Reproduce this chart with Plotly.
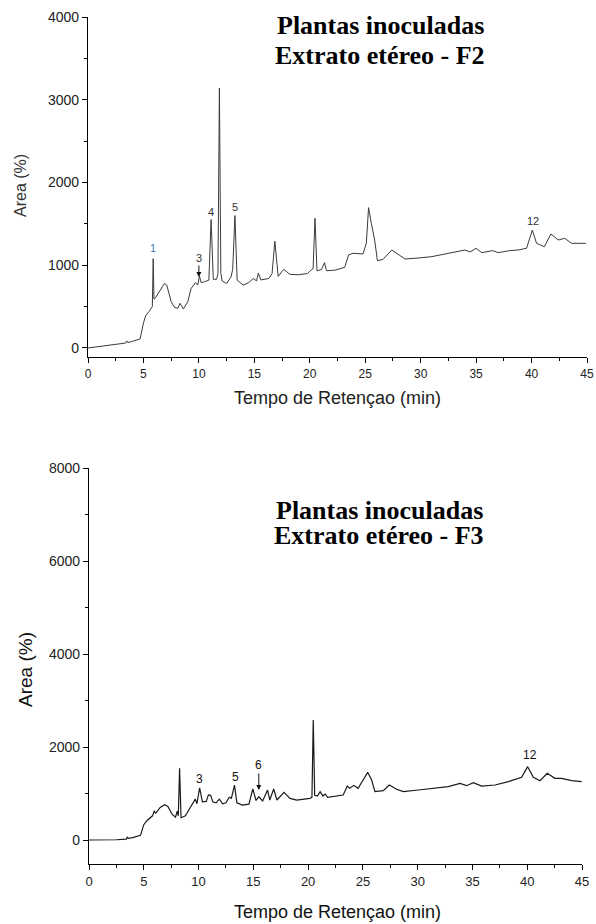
import plotly.graph_objects as go

# ---------------- data ----------------
t_f2 = [0, 1, 2, 3, 3.4, 3.5, 3.6, 4, 4.7, 5.0, 5.2, 5.5, 5.8, 5.88, 5.95, 6.05, 6.5, 6.9, 7.1,
        7.5, 7.8, 8.1, 8.3, 8.6, 9.0, 9.3, 9.7, 9.9, 10.05, 10.2, 10.5, 10.9, 11.1, 11.3, 11.6,
        11.72, 11.85, 11.98, 12.1, 12.5, 12.9, 13.05, 13.25, 13.45, 14.0, 14.5, 14.9, 15.2, 15.36,
        15.6, 16.3, 16.6, 16.85, 17.15, 17.65, 18.2, 19.0, 19.8, 20.1, 20.3, 20.47, 20.65, 21.05,
        21.33, 21.5, 22.3, 23.15, 23.5, 23.9, 24.8, 25.1, 25.3, 25.55, 25.85, 26.1, 26.6, 27.4,
        28.0, 28.6, 30.0, 31.0, 32.2, 33.1, 34.0, 34.45, 35.0, 35.5, 36.5, 37.0, 38.0, 38.8, 39.55,
        40.07, 40.45, 41.15, 41.75, 42.4, 43.0, 43.6, 44.9]
area_f2 = [0, 15, 30, 45, 60, 85, 65, 80, 110, 300, 390, 440, 500, 1080, 590, 600, 700, 780, 760,
           560, 490, 480, 540, 470, 560, 720, 790, 760, 870, 790, 800, 820, 1552, 830, 830,
           900, 3140, 900, 810, 780, 860, 950, 1600, 820, 760, 790, 840, 810, 905,
           822, 840, 900, 1290, 865, 950, 890, 885, 900, 940, 960, 1567, 933, 947,
           1031, 933, 941, 975, 1124, 1144, 1136, 1265, 1696, 1507, 1305, 1055, 1071, 1184,
           1124, 1075, 1090, 1104, 1136, 1160, 1184, 1160, 1205, 1152, 1176, 1152, 1176, 1184, 1205,
           1426, 1265, 1224, 1378, 1305, 1325, 1265, 1265]

t_f3 = [0, 1, 2.5, 3.4, 3.5, 3.6, 4.0, 4.7, 5.0, 5.3, 5.8, 5.95, 6.1, 6.5, 6.9, 7.2, 7.6, 7.9,
        8.05, 8.15, 8.27, 8.4, 8.8, 9.3, 9.7, 9.85, 10.1, 10.35, 10.7, 10.9, 11.1, 11.3, 11.6,
        11.9, 12.2, 12.5, 12.8, 13.0, 13.28, 13.5, 14.0, 14.6, 14.95, 15.25, 15.5, 15.85, 16.3,
        16.5, 16.86, 17.15, 17.8, 18.35, 18.96, 20.17, 20.35, 20.47, 20.6, 20.85, 21.1, 21.35,
        21.56, 21.78, 22.9, 23.2, 23.58, 23.8, 24.17, 24.56, 25.02, 25.44, 25.8, 26.1, 26.86,
        27.41, 28.08, 28.69, 30.06, 31.58, 32.8, 33.86, 34.47, 35.08, 35.84, 37.06, 38.28, 39.49,
        40.04, 40.56, 41.17, 41.83, 42.53, 43.14, 44.05, 44.97]
area_f3 = [0, 0, 5, 20, 60, 35, 50, 100, 330, 420, 520, 620, 580, 700, 760, 720, 550, 490,
           620, 520, 1540, 480, 520, 720, 880, 780, 1120, 820, 830, 970, 960, 820, 800,
           880, 780, 800, 920, 900, 1180, 800, 750, 770, 1100, 850, 930, 840, 1075,
           860, 1097, 860, 1025, 896, 860, 896, 920, 2580, 960, 946, 1039, 946,
           989, 918, 946, 968, 1161, 1111, 1175, 1111, 1290, 1455, 1290, 1039, 1061,
           1183, 1090, 1039, 1075, 1111, 1147, 1219, 1168, 1233, 1161, 1183, 1254, 1348,
           1577, 1348, 1276, 1433, 1326, 1326, 1276, 1254]

x_ticks = [0, 5, 10, 15, 20, 25, 30, 35, 40, 45]
y_ticks_f2 = [0, 1000, 2000, 3000, 4000]
y_ticks_f3 = [0, 2000, 4000, 6000, 8000]

# peak labels: (text, time, area)
labels_f2 = [("1", 5.86, 1208), ("4", 11.1, 1644), ("5", 13.3, 1704), ("12", 40.1, 1535)]
labels_f3 = [("3", 10.1, 1312), ("5", 13.4, 1355), ("12", 40.25, 1828)]
arrow_f2 = ("3", 10.0, 858)
arrow_f3 = ("6", 15.5, 1075)

titles = ["Plantas inoculadas", "Extrato etéreo - F2", "Extrato etéreo - F3"]

# ---------------- figure ----------------
W, H = 596, 924
L, R = 88, 9
PW = W - L - R


def px_x(px):
    return (px - L) / PW


def px_y(py):
    return 1 - py / H


fig = go.Figure()
fig.add_trace(go.Scatter(x=t_f2, y=area_f2, mode="lines", line=dict(color="#3a3a3a", width=1),
                         xaxis="x", yaxis="y", showlegend=False, hoverinfo="skip"))
fig.add_trace(go.Scatter(x=t_f3, y=area_f3, mode="lines", line=dict(color="#1a1a1a", width=1.2),
                         xaxis="x2", yaxis="y2", showlegend=False, hoverinfo="skip"))

axis_common = dict(showline=True, linecolor="black", linewidth=1.3, ticks="outside",
                   tickcolor="black", ticklen=5, tickwidth=1.2, showgrid=False, zeroline=False,
                   mirror=False, automargin=False, ticklabeloverflow="allow")

fig.update_layout(
    width=W, height=H, margin=dict(l=L, r=R, t=0, b=0, autoexpand=False),
    paper_bgcolor="white", plot_bgcolor="white",
    xaxis=dict(axis_common, domain=[0, 1], range=[0, 45], tickvals=x_ticks, anchor="y",
               minor=dict(ticks="outside", ticklen=3, tickcolor="black", dtick=2.5, tick0=0),
               tickfont=dict(family="Liberation Sans", size=12, color="#222")),
    yaxis=dict(axis_common, domain=[px_y(357), px_y(17)], range=[-109, 4000], tickvals=y_ticks_f2,
               anchor="x",
               minor=dict(ticks="outside", ticklen=3, tickcolor="black", dtick=500, tick0=0),
               tickfont=dict(family="Liberation Sans", size=14, color="#222")),
    xaxis2=dict(axis_common, domain=[px_x(89), px_x(582)], range=[0, 45], tickvals=x_ticks, anchor="y2",
                minor=dict(ticks="outside", ticklen=3, tickcolor="black", dtick=2.5, tick0=0),
                tickfont=dict(family="Liberation Sans", size=13, color="#222")),
    yaxis2=dict(axis_common, domain=[px_y(864), px_y(468)], range=[-516, 8000], tickvals=y_ticks_f3,
                anchor="x2",
                minor=dict(ticks="outside", ticklen=3, tickcolor="black", dtick=1000, tick0=0),
                tickfont=dict(family="Liberation Sans", size=14, color="#222")),
)

ann = []
# chart titles
title_font = dict(family="Liberation Serif", size=26, color="black")
ann.append(dict(text="<b>" + titles[0] + "</b>", x=px_x(380), y=px_y(26), xref="paper", yref="paper",
                showarrow=False, font=title_font, xanchor="center", yanchor="middle"))
ann.append(dict(text="<b>" + titles[1] + "</b>", x=px_x(380), y=px_y(56), xref="paper", yref="paper",
                showarrow=False, font=title_font, xanchor="center", yanchor="middle"))
ann.append(dict(text="<b>" + titles[0] + "</b>", x=px_x(379), y=px_y(510), xref="paper", yref="paper",
                showarrow=False, font=title_font, xanchor="center", yanchor="middle"))
ann.append(dict(text="<b>" + titles[2] + "</b>", x=px_x(379), y=px_y(535), xref="paper", yref="paper",
                showarrow=False, font=title_font, xanchor="center", yanchor="middle"))

# axis titles
ann.append(dict(text="Tempo de Retençao (min)", x=px_x(337), y=px_y(398), xref="paper", yref="paper",
                xanchor="center", yanchor="middle",
                showarrow=False, font=dict(family="Liberation Sans", size=18, color="#222")))
ann.append(dict(text="Area (%)", x=px_x(20), y=px_y(186), xref="paper", yref="paper", textangle=-90,
                xanchor="center", yanchor="middle",
                showarrow=False, font=dict(family="Liberation Sans", size=16, color="#333")))
ann.append(dict(text="Tempo de Retençao (min)", x=px_x(337), y=px_y(912), xref="paper", yref="paper",
                xanchor="center", yanchor="middle",
                showarrow=False, font=dict(family="Liberation Sans", size=18, color="#111")))
ann.append(dict(text="Area (%)", x=px_x(25), y=px_y(670), xref="paper", yref="paper", textangle=-90,
                xanchor="center", yanchor="middle",
                showarrow=False, font=dict(family="Liberation Sans", size=19, color="#111")))

# peak labels
lab_font = dict(family="Liberation Sans", size=11, color="#333")
for txt, tx, ty in labels_f2:
    col = "#3d7ab8" if txt == "1" else "#333"
    ann.append(dict(text=txt, x=tx, y=ty, xref="x", yref="y", showarrow=False,
                    font=dict(family="Liberation Sans", size=11, color=col)))
for txt, tx, ty in labels_f3:
    ann.append(dict(text=txt, x=tx, y=ty, xref="x2", yref="y2", showarrow=False,
                    font=dict(family="Liberation Sans", size=12, color="#111")))
ann.append(dict(text=arrow_f2[0], x=arrow_f2[1], y=arrow_f2[2], xref="x", yref="y", showarrow=True,
                ax=0, ay=-19, arrowhead=2, arrowsize=1, arrowwidth=1, arrowcolor="#111",
                font=lab_font))
ann.append(dict(text=arrow_f3[0], x=arrow_f3[1], y=arrow_f3[2], xref="x2", yref="y2", showarrow=True,
                ax=0, ay=-25, arrowhead=2, arrowsize=1, arrowwidth=1, arrowcolor="#111",
                font=dict(family="Liberation Sans", size=12, color="#111")))

fig.update_layout(annotations=ann)
# remove the default page margin so the figure fills the 596x924 window exactly
fig.write_html("out.html", config={"displayModeBar": False},
               post_script="document.body.style.margin='0';document.body.style.overflow='hidden';")
